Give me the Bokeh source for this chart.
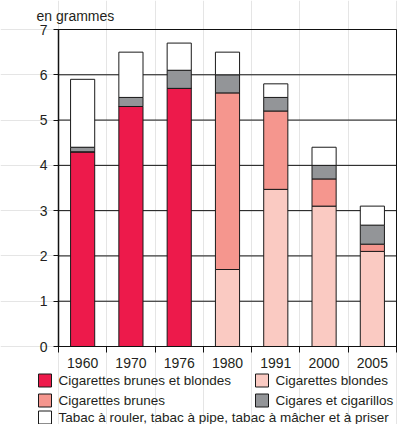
from bokeh.plotting import figure
from bokeh.models import Range1d, FixedTicker, ColumnDataSource, LinearAxis
from bokeh.core.properties import value
from bokeh.embed import file_html
from bokeh.resources import INLINE

# ---- data ----
years = ["1960", "1970", "1976", "1980", "1991", "2000", "2005"]
brunes_et_blondes = [4.3, 5.3, 5.7, 0, 0, 0, 0]
blondes = [0, 0, 0, 1.7, 3.47, 3.1, 2.1]
brunes = [0, 0, 0, 3.9, 1.73, 0.6, 0.16]
cigares = [0.1, 0.2, 0.4, 0.4, 0.3, 0.3, 0.42]
tabac = [1.5, 1.0, 0.6, 0.5, 0.3, 0.4, 0.42]
y_ticks = [0, 1, 2, 3, 4, 5, 6, 7]
unit_label = "en grammes"

series_keys = ["brunes_et_blondes", "blondes", "brunes", "cigares", "tabac"]
series_labels = [
    "Cigarettes brunes et blondes",
    "Cigarettes blondes",
    "Cigarettes brunes",
    "Cigares et cigarillos",
    "Tabac à rouler, tabac à pipe, tabac à mâcher et à priser",
]
series_colors = ["#ED1A4B", "#FACAC2", "#F5968E", "#939598", "#FFFFFF"]

# ---- layout (pixels) ----
W, H = 397, 424
FL, FR, FT, FB = 58, 396, 29, 346          # plotting box edges
FONT = "Liberation Sans"
TXT = "#231F20"
LINE = "#1a1a1a"

n = len(years)
ymax = y_ticks[-1]
sx = (FR - FL) / n
sy = (FB - FT) / ymax


def px2x(px):
    return (px - FL) / sx


def px2y(py):
    return (FB - py) / sy


xpos = [i + 0.5 for i in range(n)]
src = ColumnDataSource(dict(x=xpos, brunes_et_blondes=brunes_et_blondes,
                            blondes=blondes, brunes=brunes,
                            cigares=cigares, tabac=tabac))

p = figure(width=W, height=H,
           x_range=Range1d(px2x(0), px2x(W)), y_range=Range1d(px2y(H), px2y(0)),
           output_backend="svg", toolbar_location=None,
           x_axis_location=None, y_axis_location=None,
           min_border=0, min_border_left=0, min_border_right=0,
           min_border_top=0, min_border_bottom=0)
p.outline_line_color = None
p.background_fill_color = "white"
p.border_fill_color = "white"

# horizontal grid lines
p.segment(x0=[0] * len(y_ticks), x1=[n] * len(y_ticks), y0=y_ticks, y1=y_ticks,
          line_color="#111111", line_width=1)

# stacked bars
renderers = p.vbar_stack(series_keys, x="x", width=0.5, source=src,
                         fill_color=series_colors, line_color=LINE, line_width=1)

# plot box
p.quad(left=[0], right=[n], bottom=[0], top=[ymax], fill_color=None,
       line_color="#111111", line_width=1)

# y axis
ya = LinearAxis(fixed_location=0, bounds=(0, ymax), ticker=FixedTicker(ticks=y_ticks))
ya.major_tick_out = 5
ya.major_tick_in = 0
ya.minor_tick_out = 0
ya.minor_tick_in = 0
ya.axis_line_color = "#111111"
ya.axis_line_width = 1.5
ya.major_tick_line_color = "#111111"
ya.major_label_standoff = 6
ya.major_label_text_font = FONT
ya.major_label_text_font_size = "14px"
ya.major_label_text_color = TXT
p.add_layout(ya, "left")

# x axis: labels at category centers, tick marks at category boundaries
xa = LinearAxis(fixed_location=0, bounds=(0, n),
                ticker=FixedTicker(ticks=xpos, minor_ticks=list(range(n + 1))))
xa.major_label_overrides = {xpos[i]: years[i] for i in range(n)}
xa.major_tick_out = 0
xa.major_tick_in = 0
xa.minor_tick_out = 6
xa.minor_tick_in = 0
xa.minor_tick_line_color = "#111111"
xa.axis_line_color = "#111111"
xa.major_label_standoff = 5
xa.major_label_text_font = FONT
xa.major_label_text_font_size = "14px"
xa.major_label_text_color = TXT
p.add_layout(xa, "below")

# unit label
p.text(x=[px2x(36)], y=[px2y(15)], text=[unit_label], text_font=value(FONT),
       text_font_size="14px", text_color=TXT, text_baseline="middle",
       text_align="left")

# legend
SQ = 13
sq_cx = [38, 255, 38, 255, 38]
row_cy = [380, 380, 400, 400, 417]
leg = ColumnDataSource(dict(
    sx=[px2x(c + SQ / 2) for c in sq_cx],
    tx=[px2x(c + SQ + 7) for c in sq_cx],
    y=[px2y(r) for r in row_cy],
    color=series_colors,
    label=series_labels,
))
p.rect(x="sx", y="y", width=SQ, height=SQ, width_units="screen",
       height_units="screen", fill_color="color", line_color=LINE,
       line_width=1, source=leg)
p.text(x="tx", y="y", text="label", source=leg, text_font=value(FONT),
       text_font_size="13.5px", text_color=TXT, text_baseline="middle",
       text_align="left")

open("out.html", "w").write(file_html(p, INLINE))
